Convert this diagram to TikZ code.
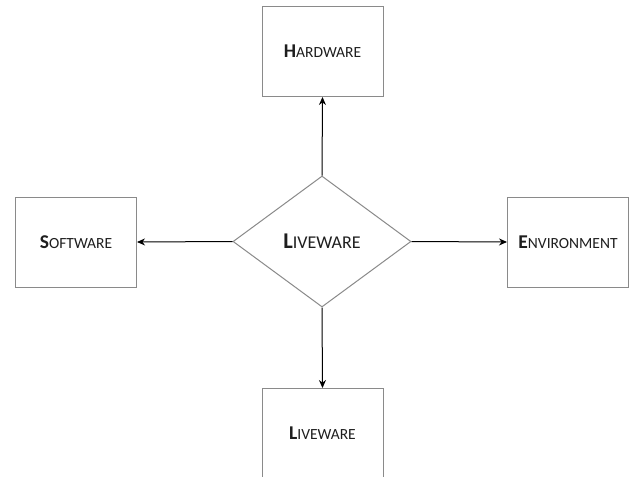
\documentclass[tikz,border=0pt]{standalone}
\usepackage{fontspec}
\setmainfont{Carlito}
\usetikzlibrary{shapes.geometric,arrows.meta}
\newcommand{\bigsc}[2]{{\fontsize{19.5}{19.5}\selectfont\bfseries #1}{\fontsize{15.5}{15.5}\selectfont #2}}
\newcommand{\dsc}[2]{{\fontsize{22.5}{22.5}\selectfont\bfseries #1}{\fontsize{18}{18}\selectfont #2}}
\definecolor{edge}{HTML}{8A8A8A}
\definecolor{txt}{HTML}{1E1E1E}
\tikzset{
  boxnode/.style={draw=edge, line width=1pt, fill=white, minimum width=121pt, minimum height=90pt, inner sep=0pt, text=txt},
  hub/.style={diamond, draw=edge, line width=1pt, fill=white, minimum width=178pt, minimum height=131pt, inner sep=0pt, text=txt},
  link/.style={draw=black, line width=1pt, -{Stealth[length=8pt,width=7pt]}}
}
\begin{document}
\begin{tikzpicture}[x=1pt,y=-1pt]
\useasboundingbox (0,0) rectangle (633,477);
\clip (0,0) rectangle (633,477);
\fill[white] (0,0) rectangle (633,477);
\node[hub] (center) at (322,241.5) {\dsc{L}{IVEWARE}};
\node[boxnode] (hw) at (322.5,51.5) {\bigsc{H}{ARDWARE}};
\node[boxnode] (sw) at (76,242) {\bigsc{S}{OFTWARE}};
\node[boxnode] (env) at (568,242) {\bigsc{E}{NVIRONMENT}};
\node[boxnode] (lw) at (322.5,433.5) {\bigsc{L}{IVEWARE}};
\draw[link] (center.north) -- (hw.south);
\draw[link] (center.west) -- (sw.east);
\draw[link] (center.east) -- (env.west);
\draw[link] (center.south) -- (lw.north);
\end{tikzpicture}
\end{document}
